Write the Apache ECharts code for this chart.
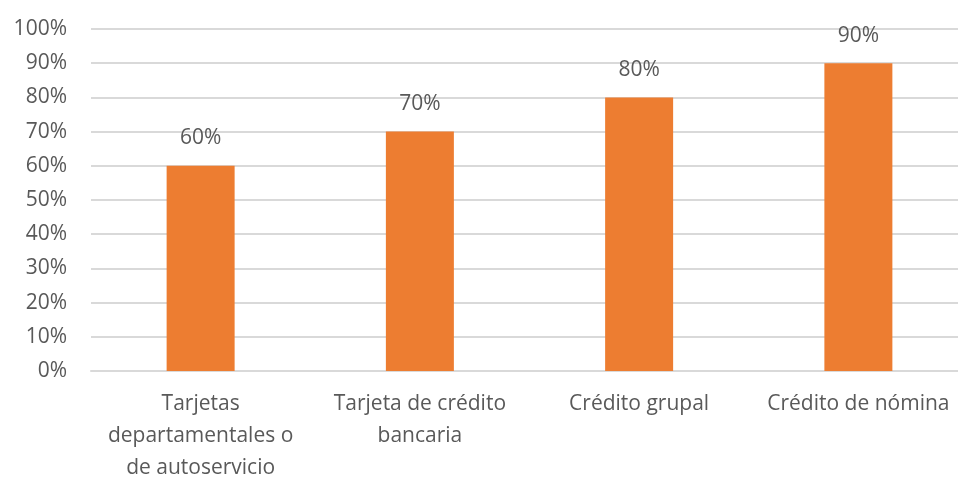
<!DOCTYPE html>
<html>
<head>
<meta charset="utf-8">
<script src="https://cdn.jsdelivr.net/npm/echarts@6/dist/echarts.min.js"></script>
<style>
  html, body { margin: 0; padding: 0; background: #ffffff; }
  #chart { width: 958px; height: 477px; }
</style>
</head>
<body>
<div id="chart"></div>
<script>
// Share of users per credit product
const categories = [
  'Tarjetas\ndepartamentales o\nde autoservicio',
  'Tarjeta de crédito\nbancaria',
  'Crédito grupal',
  'Crédito de nómina'
];
const values = [60, 70, 80, 90];
const yTicks = { min: 0, max: 100, interval: 10 };

const textColor = '#595959';
const fontFamily = '"Open Sans", "Liberation Sans", sans-serif';
const fontSize = 21;

const chart = echarts.init(document.getElementById('chart'), null, { renderer: 'canvas' });
chart.setOption({
  animation: false,
  backgroundColor: '#ffffff',
  grid: {
    left: 91, top: 29, width: 877, height: 342,
    containLabel: false,
    outerBoundsMode: 'none'
  },
  xAxis: {
    type: 'category',
    data: categories,
    axisLine: { show: true, lineStyle: { color: '#d9d9d9', width: 2 } },
    axisTick: { show: false },
    axisLabel: {
      color: textColor,
      fontFamily: fontFamily,
      fontSize: fontSize,
      lineHeight: 32,
      margin: 17,
      interval: 0
    }
  },
  yAxis: {
    type: 'value',
    min: yTicks.min,
    max: yTicks.max,
    interval: yTicks.interval,
    axisLine: { show: false },
    axisTick: { show: false },
    splitLine: { lineStyle: { color: '#d9d9d9', width: 2 } },
    axisLabel: {
      color: textColor,
      fontFamily: fontFamily,
      fontSize: fontSize,
      margin: 24,
      formatter: v => v + '%'
    }
  },
  series: [{
    type: 'bar',
    data: values,
    barWidth: 68,
    itemStyle: { color: '#ED7D31' },
    label: {
      show: true,
      position: 'top',
      distance: 17,
      color: textColor,
      fontFamily: fontFamily,
      fontSize: fontSize,
      formatter: p => p.value + '%'
    }
  }]
});
</script>
</body>
</html>
